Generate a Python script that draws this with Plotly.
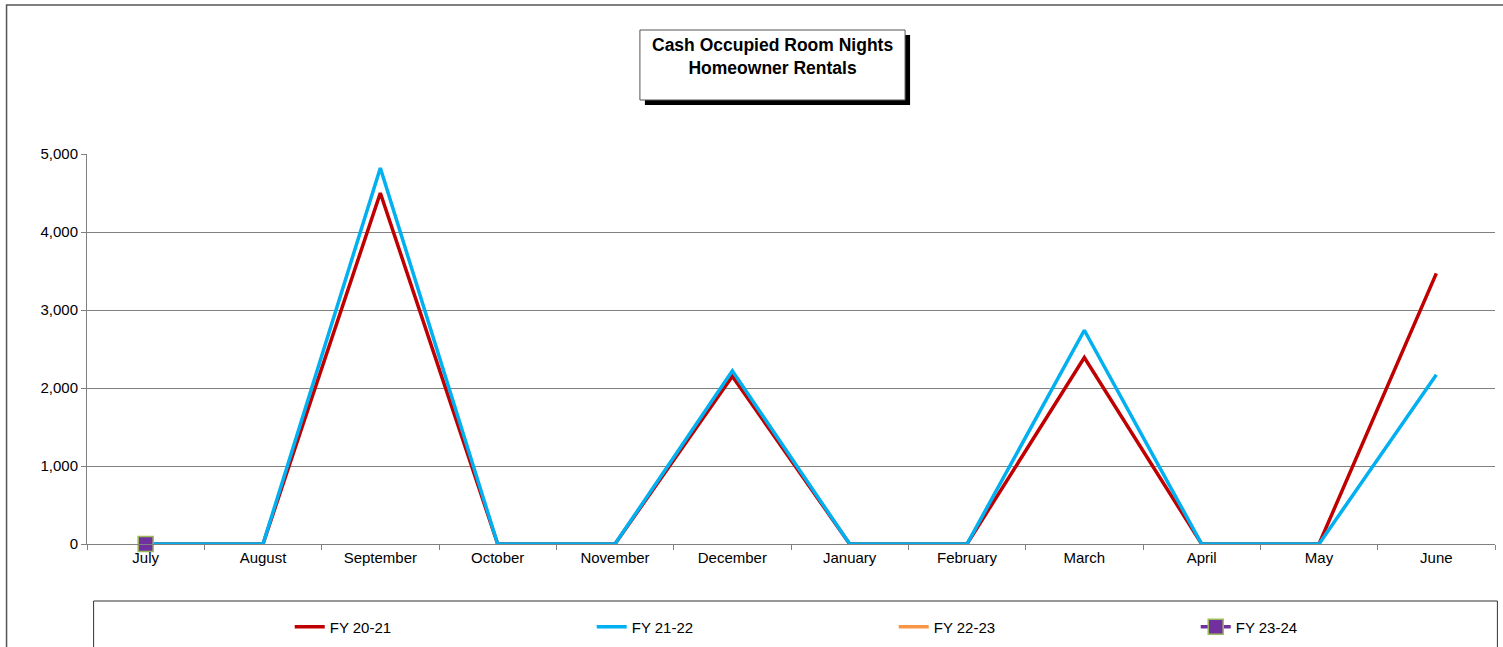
import plotly.graph_objects as go

months = ["July", "August", "September", "October", "November", "December",
          "January", "February", "March", "April", "May", "June"]

fy_20_21 = [0, 0, 4500, 0, 0, 2150, 0, 0, 2390, 0, 0, 3470]
fy_21_22 = [0, 0, 4820, 0, 0, 2220, 0, 0, 2740, 0, 0, 2170]
fy_22_23 = [None] * 12
fy_23_24 = [0] + [None] * 11

W, H = 1503, 647
L, R, T, B = 87.4, 1494.6, 154, 544


def px(x):
    return (x - L) / (R - L)


def py(y):
    return (B - y) / (B - T)


fig = go.Figure()
fig.add_trace(go.Scatter(x=months, y=fy_20_21, name="FY 20-21", mode="lines",
                         line={"color": "#C00000", "width": 3.5}))
fig.add_trace(go.Scatter(x=months, y=fy_21_22, name="FY 21-22", mode="lines",
                         line={"color": "#00B0F0", "width": 3.5}))
fig.add_trace(go.Scatter(x=months, y=fy_22_23, name="FY 22-23", mode="lines",
                         line={"color": "#F79646", "width": 3.5}))
fig.add_trace(go.Scatter(x=months, y=fy_23_24, name="FY 23-24", mode="lines+markers",
                         cliponaxis=False,
                         line={"color": "#7030A0", "width": 3.5},
                         marker={"symbol": "square", "size": 15, "color": "#7030A0",
                                 "line": {"color": "#9BBB59", "width": 1.5}}))

shapes = [
    # outer chart frame
    dict(type="rect", xref="paper", yref="paper", x0=px(7), x1=px(1508), y0=py(700), y1=py(5),
         line={"color": "#555555", "width": 1.5}, fillcolor="rgba(0,0,0,0)", layer="below"),
    # legend frame
    dict(type="rect", xref="paper", yref="paper", x0=px(94), x1=px(1497), y0=py(700), y1=py(601),
         line={"color": "#333333", "width": 1}, fillcolor="white", layer="below"),
    # title shadow + box
    dict(type="rect", xref="paper", yref="paper", x0=px(645), x1=px(910), y0=py(105), y1=py(35),
         line={"width": 0}, fillcolor="black"),
    dict(type="rect", xref="paper", yref="paper", x0=px(640), x1=px(905), y0=py(100), y1=py(30),
         line={"color": "#555555", "width": 1}, fillcolor="white"),
]

fig.update_layout(
    width=W, height=H,
    margin={"l": L, "r": W - R, "t": T, "b": H - B, "pad": 0, "autoexpand": False},
    paper_bgcolor="white", plot_bgcolor="white",
    font={"family": "Liberation Sans, Arial, sans-serif", "size": 15, "color": "black"},
    shapes=shapes,
    annotations=[dict(text="<b>Cash Occupied Room Nights<br>Homeowner Rentals</b>",
                      xref="paper", yref="paper", x=px(773), y=py(56.5), showarrow=False,
                      xanchor="center", yanchor="middle",
                      font={"size": 17.5, "color": "black"}, align="center")],
    showlegend=True,
    legend={"orientation": "h", "x": px(290), "y": py(627), "xanchor": "left", "yanchor": "middle",
            "entrywidth": 257, "entrywidthmode": "pixels", "bgcolor": "rgba(0,0,0,0)",
            "font": {"size": 15}},
)
fig.update_xaxes(type="category", range=[-0.5, 11.5], showgrid=False, showline=True,
                 linecolor="#808080", linewidth=1, ticks="outside", tickson="boundaries",
                 ticklen=5, tickcolor="#808080", fixedrange=True)
fig.update_yaxes(range=[0, 5000], dtick=1000, tickformat=",", showgrid=True,
                 gridcolor="#808080", gridwidth=1, showline=True, linecolor="#808080",
                 linewidth=1, ticks="outside", ticklen=5, tickcolor="#808080",
                 zeroline=False, fixedrange=True)

fig.write_html("out.html", config={"displayModeBar": False},
               post_script="document.body.style.margin='0';")
